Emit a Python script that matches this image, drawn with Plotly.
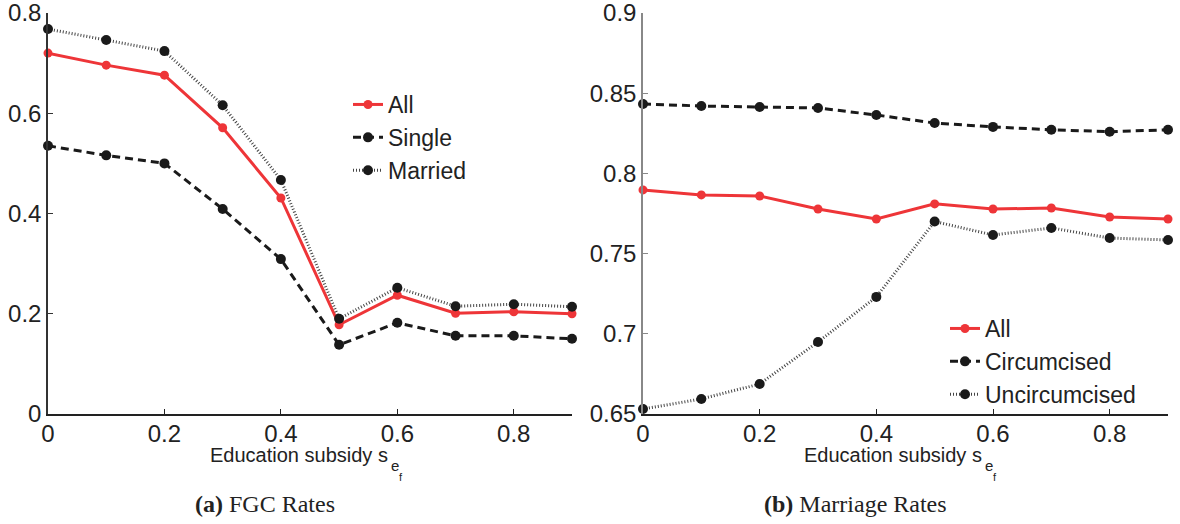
import plotly.graph_objects as go

# Education subsidy levels
subsidy = [0.0, 0.1, 0.2, 0.3, 0.4, 0.5, 0.6, 0.7, 0.8, 0.9]

# (a) FGC rates
fgc_all = [0.720, 0.696, 0.676, 0.571, 0.431, 0.178, 0.237, 0.201, 0.204, 0.200]
fgc_single = [0.535, 0.516, 0.500, 0.409, 0.309, 0.138, 0.182, 0.156, 0.156, 0.150]
fgc_married = [0.768, 0.746, 0.724, 0.616, 0.467, 0.190, 0.252, 0.215, 0.219, 0.214]

# (b) Marriage rates
mar_all = [0.7897, 0.7866, 0.7859, 0.7778, 0.7716, 0.7810, 0.7778, 0.7784, 0.7728, 0.7716]
mar_circ = [0.8433, 0.8420, 0.8414, 0.8408, 0.8364, 0.8314, 0.8290, 0.8272, 0.8260, 0.8272]
mar_uncirc = [0.6531, 0.6594, 0.6687, 0.6949, 0.7230, 0.7700, 0.7616, 0.7660, 0.7597, 0.7585]

x_ticks = [0, 0.2, 0.4, 0.6, 0.8]
fgc_yticks = [0, 0.2, 0.4, 0.6, 0.8]
mar_yticks = [0.65, 0.7, 0.75, 0.8, 0.85, 0.9]

RED = "#ee3538"
BLACK = "#1a1a1a"
TEXT = "#222222"
SANS = "Liberation Sans, Arial, sans-serif"
SERIF = "Liberation Serif, Times New Roman, serif"

W, H = 1180, 524


def px_x(p):
    return p / W


def px_y(p):
    return 1 - p / H


styles = {
    "all": dict(line=dict(color=RED, width=3), marker=dict(color=RED, size=9)),
    "dash": dict(line=dict(color=BLACK, width=3, dash="8px,5px"),
                 marker=dict(color=BLACK, size=10)),
    "dot": dict(line=dict(color="#444444", width=3, dash="1px,2px"),
                marker=dict(color=BLACK, size=10)),
}

fig = go.Figure()


def add(xa, ya, y, name, style, legend):
    fig.add_trace(go.Scatter(
        x=subsidy, y=y, name=name, mode="lines+markers",
        xaxis=xa, yaxis=ya, legend=legend, cliponaxis=False,
        **styles[style]))


add("x", "y", fgc_all, "All", "all", "legend")
add("x", "y", fgc_single, "Single", "dash", "legend")
add("x", "y", fgc_married, "Married", "dot", "legend")
add("x2", "y2", mar_all, "All", "all", "legend2")
add("x2", "y2", mar_circ, "Circumcised", "dash", "legend2")
add("x2", "y2", mar_uncirc, "Uncircumcised", "dot", "legend2")

ydom = [px_y(414), px_y(13)]
axis_common = dict(
    showgrid=False, zeroline=False, showline=True, linewidth=1.5,
    ticks="inside", ticklen=5, tickwidth=1, automargin=False,
    ticklabeloverflow="allow",
    tickfont=dict(family=SANS, size=24, color=TEXT),
)

legend_common = dict(
    xanchor="left", yanchor="top", bgcolor="rgba(0,0,0,0)",
    font=dict(family=SANS, size=23, color=TEXT), itemwidth=30, tracegroupgap=0,
)

fig.update_layout(
    width=W, height=H,
    margin=dict(l=0, r=0, t=0, b=0, autoexpand=False),
    paper_bgcolor="white", plot_bgcolor="white",
    xaxis=dict(domain=[px_x(48), px_x(572)], range=[0, 0.9], tickvals=x_ticks,
               ticktext=[f"{v:g}" for v in x_ticks], anchor="y", ticklabelstandoff=-3,
               linecolor=TEXT, tickcolor=TEXT, **axis_common),
    yaxis=dict(domain=ydom, range=[0, 0.8], tickvals=fgc_yticks,
               ticktext=[f"{v:g}" for v in fgc_yticks], anchor="x",
               linecolor="#333333", tickcolor="#333333", **axis_common),
    xaxis2=dict(domain=[px_x(643), px_x(1168)], range=[0, 0.9], tickvals=x_ticks,
                ticktext=[f"{v:g}" for v in x_ticks], anchor="y2", ticklabelstandoff=-3,
                linecolor=TEXT, tickcolor=TEXT, **axis_common),
    yaxis2=dict(domain=ydom, range=[0.65, 0.9], tickvals=mar_yticks,
                ticktext=[f"{v:g}" for v in mar_yticks], anchor="x2",
                linecolor="#888888", tickcolor="#888888", **axis_common),
    legend=dict(x=px_x(348), y=px_y(83), **legend_common),
    legend2=dict(x=px_x(945), y=px_y(307), **legend_common),
    showlegend=True,
)

# x-axis titles: "Education subsidy s" with nested subscripts e and f
for end_x in (389, 983):
    fig.add_annotation(x=px_x(end_x), y=px_y(455), xref="paper", yref="paper",
                       xanchor="right", yanchor="middle", showarrow=False, borderpad=0,
                       text="Education subsidy s", font=dict(family=SANS, size=20, color=TEXT))
    fig.add_annotation(x=px_x(end_x + 1), y=px_y(465), xref="paper", yref="paper",
                       xanchor="left", yanchor="middle", showarrow=False, borderpad=0,
                       text="e", font=dict(family=SANS, size=15, color=TEXT))
    fig.add_annotation(x=px_x(end_x + 9), y=px_y(477), xref="paper", yref="paper",
                       xanchor="left", yanchor="middle", showarrow=False, borderpad=0,
                       text="f", font=dict(family=SANS, size=11, color=TEXT))

captions = [(265, "<b>(a)</b> FGC Rates"), (855, "<b>(b)</b> Marriage Rates")]
for cx, txt in captions:
    fig.add_annotation(x=px_x(cx), y=px_y(504), xref="paper", yref="paper",
                       xanchor="center", yanchor="middle", showarrow=False,
                       text=txt, font=dict(family=SERIF, size=24, color=TEXT))

fig.write_html("out.html")
